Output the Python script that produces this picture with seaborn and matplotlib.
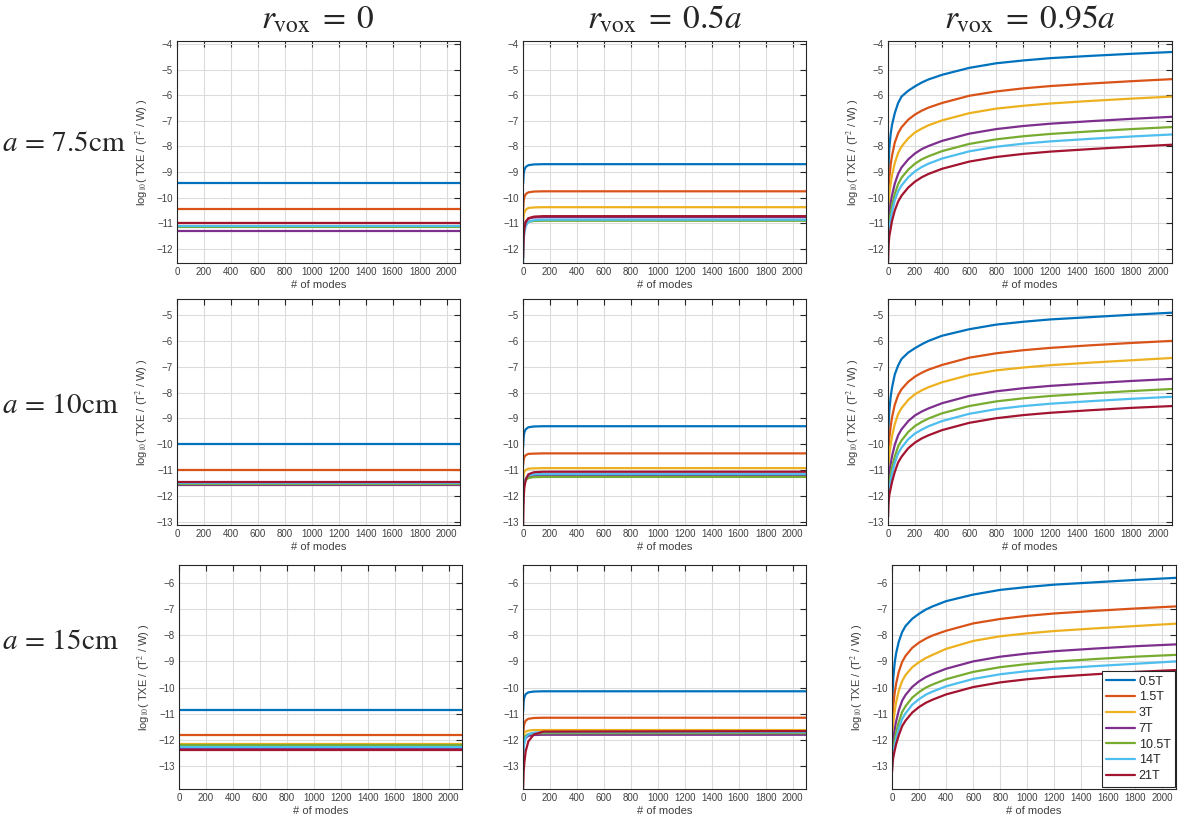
import numpy as np
import pandas as pd
import seaborn as sns
import matplotlib.pyplot as plt

# field strengths and MATLAB default colours
fields = ["0.5T", "1.5T", "3T", "7T", "10.5T", "14T", "21T"]
colors = ["#0072BD", "#D95319", "#EDB120", "#7E2F8E", "#77AC30", "#4DBEEE", "#A2142F"]

# x samples (# of modes)
modes_flat = [1, 2100]
modes_rise = [1, 5, 10, 20, 40, 80, 150, 2100]
modes_curve = [1, 3, 5, 10, 20, 30, 50, 75, 100, 150, 200, 250, 300, 400,
               600, 800, 1000, 1200, 1500, 1800, 2100]

# r_vox = 0 : flat lines (one value per field)
flat_75 = [-9.42, -10.45, -11.0, -11.29, -11.16, -11.09, -10.99]
flat_10 = [-10.0, -11.01, -11.48, -11.58, -11.53, -11.5, -11.46]
flat_15 = [-10.87, -11.8, -12.14, -12.33, -12.2, -12.25, -12.37]

# r_vox = 0.5a : fast rise to plateau
rise_75 = [
    [-9.45, -9.07, -8.92, -8.80, -8.73, -8.70, -8.69, -8.69],
    [-10.5, -10.12, -9.98, -9.86, -9.79, -9.76, -9.75, -9.75],
    [-11.05, -10.71, -10.57, -10.47, -10.40, -10.38, -10.37, -10.37],
    [-11.9, -11.33, -11.10, -10.93, -10.82, -10.77, -10.76, -10.76],
    [-11.7, -11.30, -11.14, -11.02, -10.94, -10.91, -10.9, -10.9],
    [-12.55, -11.70, -11.37, -11.11, -10.94, -10.88, -10.86, -10.86],
    [-12.35, -11.54, -11.21, -10.96, -10.80, -10.74, -10.72, -10.72],
]
rise_10 = [
    [-10.1, -9.70, -9.54, -9.42, -9.34, -9.31, -9.3, -9.3],
    [-10.8, -10.58, -10.49, -10.42, -10.37, -10.36, -10.35, -10.35],
    [-11.4, -11.16, -11.06, -10.99, -10.94, -10.93, -10.92, -10.92],
    [-12.3, -11.76, -11.54, -11.38, -11.27, -11.23, -11.22, -11.22],
    [-12.1, -11.68, -11.51, -11.39, -11.30, -11.27, -11.26, -11.26],
    [-12.2, -11.68, -11.47, -11.31, -11.2, -11.16, -11.15, -11.15],
    [-13.1, -12.08, -11.67, -11.37, -11.16, -11.08, -11.06, -11.06],
]
rise_15 = [
    [-10.9, -10.52, -10.37, -10.25, -10.18, -10.15, -10.14, -10.14],
    [-11.9, -11.52, -11.38, -11.26, -11.19, -11.16, -11.15, -11.15],
    [-12.0, -11.81, -11.73, -11.68, -11.64, -11.62, -11.62, -11.62],
    [-12.6, -12.2, -12.04, -11.92, -11.84, -11.81, -11.8, -11.8],
    [-12.4, -12.07, -11.94, -11.84, -11.77, -11.75, -11.74, -11.74],
    [-12.7, -12.3, -12.1, -11.9, -11.78, -11.72, -11.7, -11.7],
    [-13.85, -13.19, -12.86, -12.43, -12.05, -11.79, -11.68, -11.66],
]

# r_vox = 0.95a : slow growth curves
curve_75 = [
    [-9.6, -9.0, -8.6, -8.05, -7.5, -7.15, -6.7, -6.3, -6.05, -5.82, -5.65, -5.5, -5.38, -5.2,
     -4.93, -4.75, -4.64, -4.55, -4.46, -4.38, -4.31],
    [-10.3, -9.9, -9.6, -9.2, -8.7, -8.35, -7.85, -7.48, -7.25, -6.95, -6.75, -6.6, -6.48, -6.3,
     -6.02, -5.85, -5.73, -5.64, -5.54, -5.45, -5.37],
    [-10.8, -10.45, -10.2, -9.85, -9.45, -9.12, -8.65, -8.25, -8.0, -7.68, -7.45, -7.3, -7.17, -6.98,
     -6.7, -6.52, -6.41, -6.32, -6.22, -6.13, -6.05],
    [-11.4, -11.1, -10.9, -10.6, -10.2, -9.9, -9.45, -9.07, -8.82, -8.5, -8.27, -8.1, -7.98, -7.78,
     -7.5, -7.32, -7.2, -7.11, -7.01, -6.92, -6.84],
    [-11.7, -11.42, -11.2, -10.95, -10.6, -10.3, -9.85, -9.47, -9.22, -8.9, -8.67, -8.5, -8.38, -8.18,
     -7.9, -7.72, -7.6, -7.51, -7.41, -7.32, -7.24],
    [-12.0, -11.7, -11.5, -11.2, -10.85, -10.55, -10.1, -9.75, -9.52, -9.2, -8.97, -8.8, -8.67, -8.47,
     -8.19, -8.01, -7.89, -7.8, -7.7, -7.61, -7.53],
    [-12.5, -12.1, -11.8, -11.5, -11.2, -10.9, -10.5, -10.15, -9.92, -9.6, -9.37, -9.2, -9.07, -8.87,
     -8.59, -8.41, -8.29, -8.2, -8.1, -8.01, -7.93],
]
curve_10 = [
    [-10.0, -9.55, -9.2, -8.7, -8.15, -7.8, -7.3, -6.95, -6.7, -6.45, -6.28, -6.13, -6.0, -5.8,
     -5.55, -5.37, -5.26, -5.17, -5.08, -4.99, -4.91],
    [-10.6, -10.3, -10.1, -9.75, -9.3, -8.95, -8.47, -8.1, -7.87, -7.58, -7.38, -7.23, -7.11, -6.93,
     -6.65, -6.48, -6.36, -6.27, -6.17, -6.08, -6.0],
    [-11.1, -10.88, -10.7, -10.4, -10.0, -9.68, -9.22, -8.83, -8.6, -8.28, -8.06, -7.91, -7.79, -7.6,
     -7.32, -7.14, -7.03, -6.94, -6.84, -6.75, -6.66],
    [-11.7, -11.5, -11.35, -11.1, -10.75, -10.45, -10.02, -9.65, -9.42, -9.1, -8.88, -8.73, -8.61, -8.41,
     -8.13, -7.95, -7.83, -7.74, -7.64, -7.55, -7.47],
    [-12.0, -11.8, -11.65, -11.45, -11.15, -10.88, -10.47, -10.08, -9.85, -9.52, -9.29, -9.13, -9.0, -8.8,
     -8.52, -8.34, -8.22, -8.13, -8.03, -7.94, -7.86],
    [-12.3, -12.08, -11.9, -11.7, -11.4, -11.13, -10.72, -10.35, -10.13, -9.8, -9.58, -9.43, -9.3, -9.1,
     -8.82, -8.64, -8.52, -8.43, -8.33, -8.24, -8.16],
    [-12.8, -12.45, -12.2, -11.95, -11.7, -11.45, -11.07, -10.7, -10.48, -10.15, -9.93, -9.77, -9.65, -9.45,
     -9.17, -8.99, -8.87, -8.78, -8.68, -8.59, -8.52],
]
curve_15 = [
    [-11.0, -10.5, -10.1, -9.6, -9.05, -8.7, -8.25, -7.88, -7.65, -7.37, -7.18, -7.02, -6.9, -6.7,
     -6.45, -6.27, -6.16, -6.07, -5.98, -5.89, -5.81],
    [-11.5, -11.25, -11.0, -10.65, -10.2, -9.86, -9.4, -9.02, -8.79, -8.48, -8.28, -8.13, -8.01, -7.83,
     -7.55, -7.38, -7.26, -7.17, -7.07, -6.98, -6.9],
    [-12.0, -11.8, -11.6, -11.3, -10.9, -10.58, -10.12, -9.75, -9.52, -9.22, -9.03, -8.87, -8.75, -8.52,
     -8.22, -8.04, -7.93, -7.84, -7.74, -7.65, -7.56],
    [-12.5, -12.35, -12.2, -11.95, -11.6, -11.3, -10.87, -10.5, -10.28, -9.97, -9.76, -9.6, -9.48, -9.28,
     -9.0, -8.82, -8.7, -8.61, -8.51, -8.42, -8.35],
    [-12.8, -12.65, -12.5, -12.3, -12.0, -11.72, -11.32, -10.93, -10.71, -10.38, -10.17, -10.0, -9.88, -9.68,
     -9.4, -9.22, -9.1, -9.01, -8.91, -8.82, -8.75],
    [-13.0, -12.82, -12.65, -12.45, -12.2, -11.95, -11.57, -11.2, -10.98, -10.65, -10.44, -10.27, -10.15, -9.95,
     -9.67, -9.49, -9.37, -9.28, -9.18, -9.09, -9.0],
    [-13.2, -13.02, -12.85, -12.65, -12.4, -12.17, -11.82, -11.47, -11.26, -10.95, -10.74, -10.58, -10.46, -10.26,
     -9.98, -9.8, -9.68, -9.59, -9.49, -9.4, -9.33],
]

col_titles = [r"$r_{\mathrm{vox}}\;=\;0$", r"$r_{\mathrm{vox}}\;=\;0.5a$", r"$r_{\mathrm{vox}}\;=\;0.95a$"]
row_labels = [r"$a\,=\,7.5\mathrm{cm}$", r"$a\,=\,10\mathrm{cm}$", r"$a\,=\,15\mathrm{cm}$"]


def long_table(modes, values):
    rows = []
    for name, vals in zip(fields, values):
        if np.isscalar(vals):
            vals = [vals] * len(modes)
        for m, v in zip(modes, vals):
            rows.append((name, m, v))
    return pd.DataFrame(rows, columns=["field", "modes", "txe"])


panels = [
    [(modes_flat, flat_75), (modes_rise, rise_75), (modes_curve, curve_75)],
    [(modes_flat, flat_10), (modes_rise, rise_10), (modes_curve, curve_10)],
    [(modes_flat, flat_15), (modes_rise, rise_15), (modes_curve, curve_15)],
]

sns.set_style("white")
plt.rcParams["mathtext.fontset"] = "stix"
plt.rcParams["font.family"] = ["Liberation Sans", "DejaVu Sans"]

W, H = 1182, 823
fig = plt.figure(figsize=(W / 100, H / 100), dpi=100)

tops = [41, 299, 565]
bottoms = [263, 525, 789]
lefts = [[177, 523, 888], [177, 523, 888], [179, 523, 892]]
widths = [283, 283, 284]
ylims = [(-12.55, -3.88), (-13.12, -4.38), (-13.87, -5.32)]
tick_col = "#404040"

for r in range(3):
    for c in range(3):
        l = lefts[r][c]
        ax = fig.add_axes([l / W, 1 - bottoms[r] / H, widths[c] / W, (bottoms[r] - tops[r]) / H])
        modes, vals = panels[r][c]
        df = long_table(modes, vals)
        last = (r == 2 and c == 2)
        sns.lineplot(data=df, x="modes", y="txe", hue="field", hue_order=fields,
                     palette=colors, estimator=None, sort=False, linewidth=1.6,
                     legend=last, ax=ax)
        ax.set_xlim(0, 2100)
        ax.set_ylim(*ylims[r])
        ax.set_xticks(range(0, 2001, 200))
        lo, hi = ylims[r]
        ax.set_yticks(range(int(np.ceil(lo)), int(np.floor(hi)) + 1))
        ax.grid(True, color="#dcdcdc", linewidth=0.8)
        ax.tick_params(direction="in", top=True, right=True, length=4, width=0.8,
                       labelsize=7, colors="#262626", labelcolor=tick_col, pad=3)
        for s in ax.spines.values():
            s.set_color("#262626")
            s.set_linewidth(0.8)
        ax.set_xlabel("# of modes", fontsize=8, color=tick_col, labelpad=2)
        if c == 1:
            ax.set_ylabel("")
        else:
            ax.set_ylabel(r"log$_{10}$( TXE / (T$^2$ / W) )", fontsize=8, color=tick_col, labelpad=4)
        if last:
            leg = ax.legend(loc="lower right", frameon=True, fancybox=False, fontsize=9,
                            handlelength=2.3, labelspacing=0.3, borderaxespad=0.2,
                            borderpad=0.35, handletextpad=0.3,
                            bbox_to_anchor=(1.005, 0.0))
            leg.get_frame().set_edgecolor("#262626")
            leg.get_frame().set_linewidth(0.8)
            leg.get_frame().set_alpha(1)
            for line in leg.get_lines():
                line.set_linewidth(1.6)

title_x = [318, 665, 1030]
for x, t in zip(title_x, col_titles):
    fig.text(x / W, 1 - 20 / H, t, fontsize=24, ha="center", va="center")

row_y = [143, 405, 641]
for y, t in zip(row_y, row_labels):
    fig.text(2 / W, 1 - y / H, t, fontsize=21, ha="left", va="center")

fig.savefig("out.png", dpi=100)
